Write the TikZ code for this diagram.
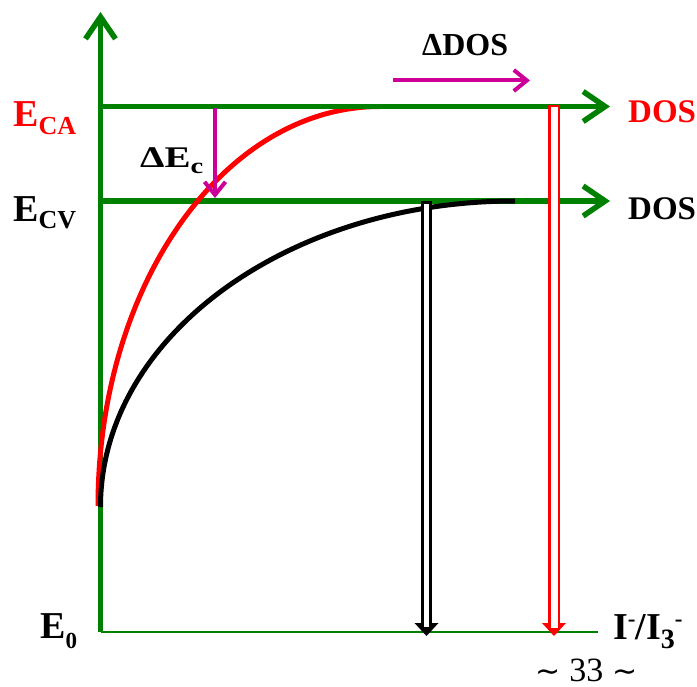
\documentclass[tikz,border=0pt]{standalone}
\usepackage{fontspec}
\setmainfont{Liberation Serif}
\newfontfamily\symfnt{DejaVu Sans}
\usetikzlibrary{arrows.meta,calc}
\definecolor{axgreen}{RGB}{0,128,0}
\definecolor{mag}{RGB}{204,0,153}
\newcommand\fsBig{\fontsize{38}{40}\selectfont}
\newcommand\fsMid{\fontsize{33}{35}\selectfont}
\newcommand\fsSub{\fontsize{26}{28}\selectfont}
\newcommand\fsSml{\fontsize{23}{25}\selectfont}
\begin{document}
\begin{tikzpicture}[x=1pt,y=-1pt,
  axisarrow/.style={axgreen,line width=5.5pt,-{Straight Barb[length=22pt,width=30pt]}},
  magarrow/.style={mag,line width=4pt,-{Straight Barb[length=13pt,width=21pt]}},
  curve/.style={line width=5pt},
  shaft/.style={draw=#1,fill=white,line width=3pt,line join=miter},
  head/.style={fill=#1,draw=none},
  lbl/.style={inner sep=0pt,anchor=base west,font=\bfseries},
]
\useasboundingbox (0,0) rectangle (697,687);
% axis coordinates
\coordinate (O) at (100.5,632);
\coordinate (Ytop) at (100.5,12);
\coordinate (Xend) at (598,632);
\coordinate (CA0) at (100.5,106.5);
\coordinate (CA1) at (610,106.5);
\coordinate (CV0) at (100.5,201);
\coordinate (CV1) at (610,201);
% axes
\draw[axisarrow] (O) -- (Ytop);
\draw[axgreen,line width=2pt] (O) -- (Xend);
\draw[axisarrow] (CV0) -- (CV1);
% curves
\coordinate (r0) at (98,506);
\coordinate (r1) at (380,106.5);
\coordinate (k0) at (100.5,507);
\coordinate (k1) at (515,201);
\draw[curve,red] (r0) .. controls (98,285) and (224,106.5) .. (r1);
\draw[curve,black] (k0) .. controls (100.5,338) and (286,201) .. (k1);
\draw[axisarrow] (CA0) -- (CA1);
% block arrows
\coordinate (bt) at (426.5,202.5);
\coordinate (bb) at (426.5,636);
\fill[head=black] ($(bb)+(-12,-13)$) -- ($(bb)+(12,-13)$) -- (bb) -- cycle;
\draw[shaft=black] ($(bt)+(-4,0)$) rectangle ($(bb)+(4,-8)$);
\coordinate (rt) at (554,106);
\coordinate (rb) at (554,636);
\fill[head=red] ($(rb)+(-12,-13)$) -- ($(rb)+(12,-13)$) -- (rb) -- cycle;
\draw[shaft=red,line width=2.5pt] ($(rt)+(-4.75,0)$) rectangle ($(rb)+(4.75,-7)$);
% magenta arrows
\coordinate (m0) at (393,80.5);
\coordinate (m1) at (530,80.5);
\coordinate (v0) at (215,108);
\coordinate (v1) at (215,198);
\draw[magarrow] (m0) -- (m1);
\draw[magarrow] (v0) -- (v1);
% labels
\node[lbl,red] (eca) at (13,127) {\fsBig E\raisebox{-8pt}{\fsSub CA}};
\node[lbl] (ecv) at (13,222) {\fsBig E\raisebox{-7pt}{\fsSub CV}};
\node[lbl] (e0) at (40,638) {\fsBig E\raisebox{-10pt}{\fsSml 0}};
\node[lbl,red] (dosr) at (628,123) {\fsMid DOS};
\node[lbl] (dosk) at (628,220) {\fsMid DOS};
\node[lbl] (ddos) at (422,56) {\fontsize{32}{34}\selectfont ΔDOS};
\node[lbl] (dec) at (140,168) {\scalebox{1.3}[1]{\fontsize{30}{32}\selectfont ΔE\raisebox{-6pt}{\fontsize{22}{24}\selectfont c}}};
\node[lbl] (iion) at (613,639) {\fsBig I\raisebox{13pt}{\fsSml -}/I\raisebox{-9pt}{\fontsize{28}{30}\selectfont 3}\raisebox{13pt}{\fsSml -}};
\node[inner sep=0pt,anchor=base west] (pg) at (535,681) {\fontsize{34}{36}\selectfont {\symfnt\fontsize{30}{32}\selectfont ∼}\hspace{9pt}33\hspace{9pt}{\symfnt\fontsize{30}{32}\selectfont ∼}};
\end{tikzpicture}
\end{document}
